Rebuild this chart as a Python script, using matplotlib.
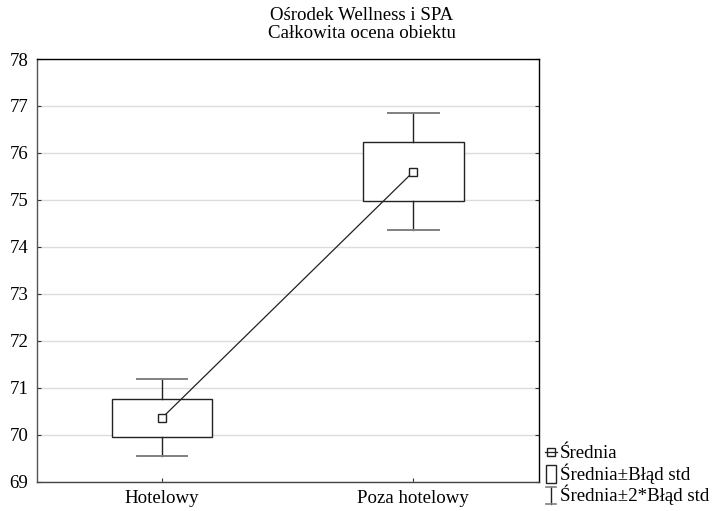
import matplotlib
matplotlib.use("Agg")
import matplotlib.pyplot as plt
from matplotlib.patches import Rectangle
from matplotlib.lines import Line2D

plt.rcParams['font.family'] = ['Liberation Serif', 'DejaVu Serif']

# Data
categories = ["Hotelowy", "Poza hotelowy"]
means = [70.36, 75.60]
std_err = [0.41, 0.625]
title_lines = ["Ośrodek Wellness i SPA", "Całkowita ocena obiektu"]
legend_labels = ["Średnia", "Średnia±Błąd std", "Średnia±2*Błąd std"]
y_ticks = list(range(69, 79))

W, H = 714, 511
fig = plt.figure(figsize=(W / 100, H / 100), dpi=100)
ax = fig.add_axes([36.5 / W, 1 - 481.7 / H, 502.5 / W, (481.7 - 59) / H])

FS = 13.6
box_w = 0.40
cap_w = 0.20
x = list(range(len(categories)))

ax.set_xlim(-0.5, 1.5)
ax.set_ylim(69, 78)
ax.set_yticks(y_ticks)
ax.set_xticks(x)
ax.set_xticklabels(categories, fontsize=FS)
ax.tick_params(axis='y', labelsize=FS, direction='in', length=3, right=True,
               pad=5.8, color='#333333')
ax.tick_params(axis='x', direction='in', length=3, pad=6, color='#333333')
ax.yaxis.grid(True, color='#dcdcdc', linewidth=1.0)
ax.set_axisbelow(True)

for side, col in [('top', 'black'), ('right', 'black'),
                  ('left', '#555555'), ('bottom', '#444444')]:
    ax.spines[side].set_color(col)
    ax.spines[side].set_linewidth(1.0)

for xi, m, se in zip(x, means, std_err):
    # whiskers (mean ± 2 SE)
    ax.plot([xi, xi], [m + se, m + 2 * se], color='#222222', lw=1.0, zorder=3)
    ax.plot([xi, xi], [m - 2 * se, m - se], color='#222222', lw=1.0, zorder=3)
    ax.plot([xi - cap_w / 2, xi + cap_w / 2], [m + 2 * se] * 2,
            color='#808080', lw=1.4, zorder=3)
    ax.plot([xi - cap_w / 2, xi + cap_w / 2], [m - 2 * se] * 2,
            color='#808080', lw=1.4, zorder=3)
    # box (mean ± SE)
    ax.add_patch(Rectangle((xi - box_w / 2, m - se), box_w, 2 * se,
                           facecolor='white', edgecolor='#222222', lw=1.0,
                           zorder=2))

# line joining the means
ax.plot(x, means, color='#222222', lw=0.9, zorder=4)
ax.plot(x, means, linestyle='none', marker='s', markersize=6,
        markerfacecolor='white', markeredgecolor='#222222',
        markeredgewidth=1.0, zorder=5)

# title
fig.text(0.507, 1 - 15 / H, title_lines[0], ha='center', va='center', fontsize=FS)
fig.text(0.507, 1 - 33 / H, title_lines[1], ha='center', va='center', fontsize=FS)


def fx(px):
    return px / W


def fy(py):
    return 1 - py / H


tr = fig.transFigure
# legend: Średnia
fig.add_artist(Line2D([fx(545), fx(557)], [fy(452), fy(452)], color='#222222',
                      lw=0.9, transform=tr))
fig.add_artist(Line2D([fx(551)], [fy(452)], marker='s', markersize=6,
                      markerfacecolor='none', markeredgecolor='#222222',
                      markeredgewidth=1.0, transform=tr))
# legend: Średnia±Błąd std
fig.add_artist(Rectangle((fx(546), fy(483)), fx(10), 18 / H, transform=tr,
                         facecolor='white', edgecolor='#222222', lw=1.0))
# legend: Średnia±2*Błąd std
fig.add_artist(Line2D([fx(551), fx(551)], [fy(487), fy(504)], color='#222222',
                      lw=1.0, transform=tr))
fig.add_artist(Line2D([fx(546), fx(556)], [fy(487), fy(487)], color='#808080',
                      lw=1.2, transform=tr))
fig.add_artist(Line2D([fx(546), fx(556)], [fy(504), fy(504)], color='#808080',
                      lw=1.2, transform=tr))

for lab, py in zip(legend_labels, [453, 474, 495]):
    fig.text(fx(560), fy(py), lab, ha='left', va='center', fontsize=FS)

fig.savefig("out.png", dpi=100)
